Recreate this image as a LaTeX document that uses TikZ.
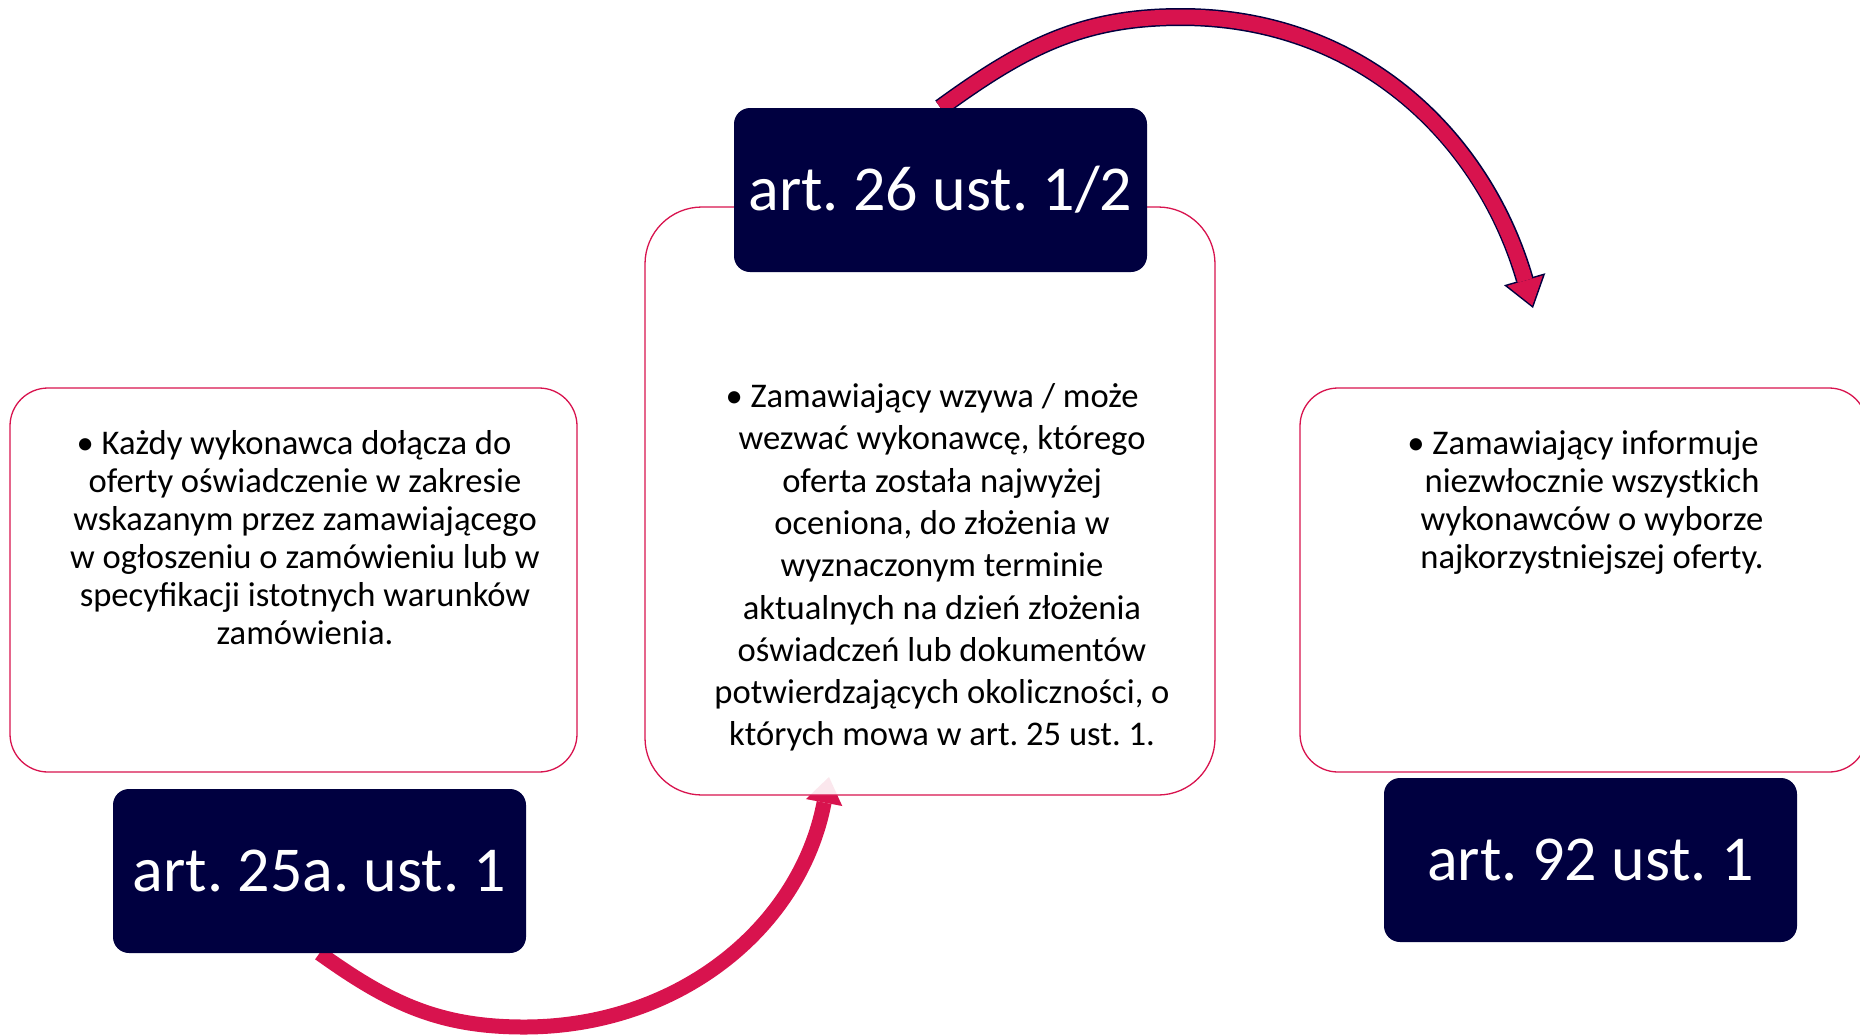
\documentclass[tikz,border=0pt]{standalone}
\usepackage{fontspec}
\setmainfont{Carlito}
\usetikzlibrary{arrows.meta,backgrounds}
\definecolor{navy}{RGB}{0,0,64}
\definecolor{crimson}{RGB}{216,19,78}
\frenchspacing
\begin{document}
\begin{tikzpicture}[
	x=1pt, y=-1pt,
	card/.style={
		rectangle, draw=crimson, line width=1.3pt,
		fill=white, fill opacity=0.9,
		minimum width=567pt, minimum height=384pt, inner sep=0pt
	},
	cardtext/.style={
		align=center, inner sep=0pt,
		font=\fontsize{34.6}{38}\selectfont
	},
	tag/.style={
		rectangle, rounded corners=16pt, fill=navy, text=white,
		minimum width=413pt, minimum height=164pt, inner sep=0pt,
		font=\fontsize{64}{72}\selectfont
	},
	arcline/.style={draw=crimson, line width=15pt,
		-{Triangle[length=26pt, width=37pt, line width=0pt]}},
	arcedge/.style={draw=navy, line width=18pt,
		-{Triangle[length=30pt, width=43pt, line width=0pt]}},
	]
	\useasboundingbox (0,0) rectangle (1860,1034);

	\node [card, rounded corners=38pt] (c25) at (293.5,580) {};
	\node [card, rounded corners=57pt, minimum width=570pt, minimum height=588pt] (c26) at (930,501) {};
	\node [card, rounded corners=38pt] (c92) at (1583.5,580) {};

	\node [cardtext] (t25) at (305,537.5) {\textbullet\ Każdy wykonawca dołącza do\hspace*{22pt}\\
		oferty oświadczenie w zakresie\\ wskazanym przez zamawiającego\\
		w ogłoszeniu o zamówieniu lub w\\ specyfikacji istotnych warunków\\ zamówienia.};
	\node [cardtext, font=\fontsize{34.6}{42.3}\selectfont] (t26) at (942,567.5) {\textbullet\ Zamawiający wzywa / może\hspace*{20pt}\\
		wezwać wykonawcę, którego\\ oferta została najwyżej\\ oceniona, do złożenia w\\
		wyznaczonym terminie\\ aktualnych na dzień złożenia\\ oświadczeń lub dokumentów\\
		potwierdzających okoliczności, o\\ których mowa w art. 25 ust. 1.};
	\node [cardtext] (t92) at (1592,502.5) {\textbullet\ Zamawiający informuje\hspace*{18pt}\\
		niezwłocznie wszystkich\\ wykonawców o wyborze\\ najkorzystniejszej oferty.};

	\node [tag] (l25) at (319.5,871) {art. 25a. ust. 1};
	\node [tag] (l26) at (940.5,190) {art. 26 ust. 1/2};
	\node [tag] (l92) at (1590.5,860) {art. 92 ust. 1};

	\coordinate (tip92) at (1533,308);
	\coordinate (tip26) at (829,777);

	\begin{scope}[on background layer]
		\path [arcedge] (l26.north) .. controls (1024,47) and (1082,17) .. (1181,17)
			.. controls (1359,17) and (1483,136) .. (tip92);
		\path [arcline, shorten >=2.5pt] (l26.north) .. controls (1024,47) and (1082,17) .. (1181,17)
			.. controls (1359,17) and (1483,136) .. (tip92);
		\path [arcline] (l25.south) .. controls (389,1003) and (439,1027) .. (524,1027)
			.. controls (678,1027) and (800,928) .. (tip26);
	\end{scope}
\end{tikzpicture}
\end{document}
